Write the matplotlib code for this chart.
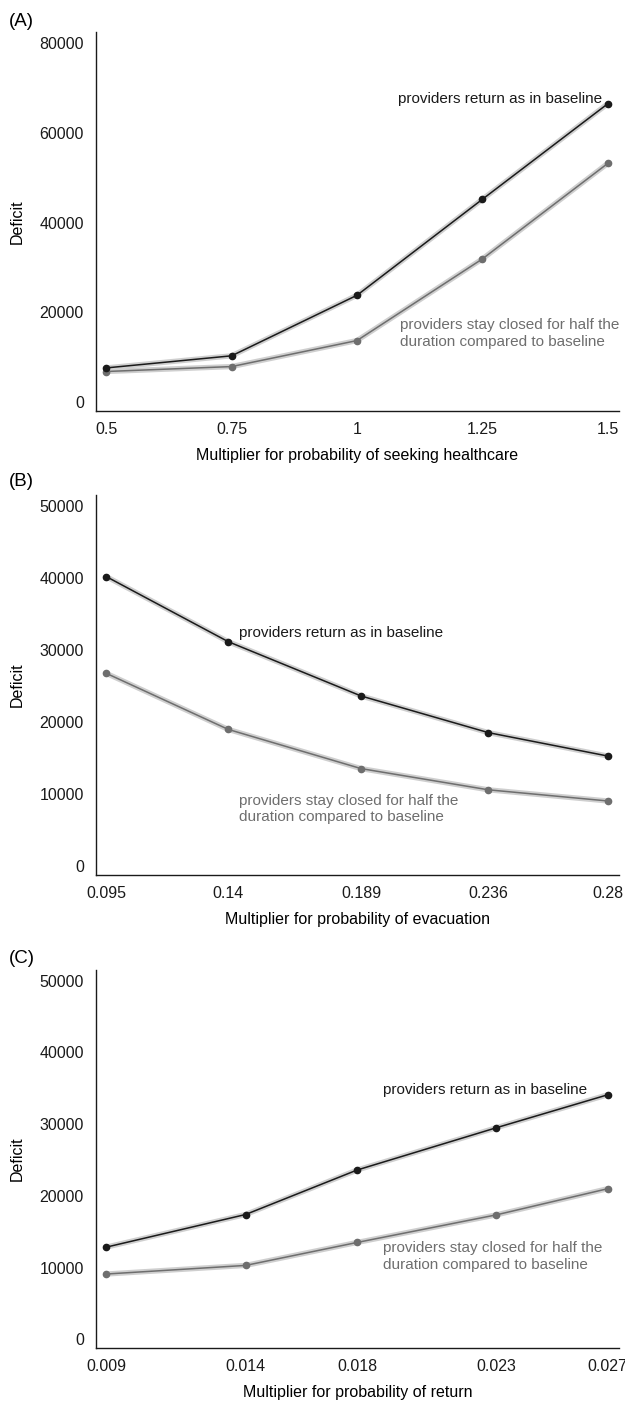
import matplotlib
matplotlib.use('Agg')
import matplotlib.pyplot as plt

plt.rcParams['font.family'] = ['Liberation Sans', 'DejaVu Sans']

# panel A: multiplier for probability of seeking healthcare
x_seek = [0.5, 0.75, 1.0, 1.25, 1.5]
seek_baseline = [7600, 10300, 23800, 45200, 66500]
seek_half = [6800, 7900, 13700, 31900, 53200]
seek_ticks = ['0.5', '0.75', '1', '1.25', '1.5']

# panel B: multiplier for probability of evacuation
x_evac = [0.095, 0.14, 0.189, 0.236, 0.28]
evac_baseline = [40250, 31200, 23650, 18550, 15300]
evac_half = [26800, 19000, 13550, 10600, 9050]
evac_ticks = ['0.095', '0.14', '0.189', '0.236', '0.28']

# panel C: multiplier for probability of return
x_ret = [0.009, 0.014, 0.018, 0.023, 0.027]
ret_baseline = [12850, 17400, 23600, 29500, 34100]
ret_half = [9100, 10300, 13500, 17350, 21000]
ret_ticks = ['0.009', '0.014', '0.018', '0.023', '0.027']

label_base = 'providers return as in baseline'
label_half = 'providers stay closed for half the\nduration compared to baseline'

dark = '#1a1a1a'
grey = '#6e6e6e'
band = '#cfcfcf'
fs = 11.5

fig = plt.figure(figsize=(6.25, 14.05), dpi=100)

panels = [
    dict(rect=[0.154, 0.7075, 0.836, 0.2697], tag='(A)', tag_y=0.9845,
         x=x_seek, base=seek_baseline, half=seek_half, ticks=seek_ticks,
         yticks=range(0, 80001, 20000), ylim=(-2000, 82500),
         xlabel='Multiplier for probability of seeking healthcare',
         base_pos=(1.488, 67500, 'right'), half_pos=(1.086, 15300)),
    dict(rect=[0.154, 0.3772, 0.836, 0.2705], tag='(B)', tag_y=0.657,
         x=x_evac, base=evac_baseline, half=evac_half, ticks=evac_ticks,
         yticks=range(0, 50001, 10000), ylim=(-1250, 51600),
         xlabel='Multiplier for probability of evacuation',
         base_pos=(0.144, 32450, 'left'), half_pos=(0.144, 7950)),
    dict(rect=[0.154, 0.0404, 0.836, 0.2692], tag='(C)', tag_y=0.318,
         x=x_ret, base=ret_baseline, half=ret_half, ticks=ret_ticks,
         yticks=range(0, 50001, 10000), ylim=(-1250, 51500),
         xlabel='Multiplier for probability of return',
         base_pos=(0.01893, 34800, 'left'), half_pos=(0.01893, 11500)),
]

for p in panels:
    ax = fig.add_axes(p['rect'])
    x = p['x']
    # light band behind each line, then the line and dots
    for ys, col in [(p['half'], grey), (p['base'], dark)]:
        ax.plot(x, ys, color=band, lw=3.8, solid_capstyle='round', zorder=1)
        ax.plot(x, ys, color=col, lw=1.1, zorder=2)
        ax.plot(x, ys, 'o', color=col, ms=4.5, zorder=3)

    span = x[-1] - x[0]
    ax.set_xlim(x[0] - 0.02 * span, x[-1] + 0.022 * span)
    ax.set_ylim(*p['ylim'])
    ax.set_xticks(x)
    ax.set_xticklabels(p['ticks'])
    ax.set_yticks(list(p['yticks']))
    ax.tick_params(length=0, labelsize=fs, colors='#1a1a1a')
    ax.tick_params(axis='y', pad=9)
    ax.tick_params(axis='x', pad=8)
    for s in ['top', 'right']:
        ax.spines[s].set_visible(False)
    for s in ['left', 'bottom']:
        ax.spines[s].set_linewidth(1.0)
        ax.spines[s].set_color('#1a1a1a')

    ax.set_ylabel('Deficit', fontsize=fs)
    ax.yaxis.set_label_coords(-0.136, 0.5)
    ax.set_xlabel(p['xlabel'], fontsize=fs)
    ax.xaxis.set_label_coords(0.5, -0.118)
    ax.xaxis.label.set_va('center')

    bx, by, bha = p['base_pos']
    ax.text(bx, by, label_base, color=dark, fontsize=fs - 0.5, ha=bha, va='center')
    hx, hy = p['half_pos']
    ax.text(hx, hy, label_half, color=grey, fontsize=fs - 0.5, ha='left',
            va='center', linespacing=1.25)

    fig.text(0.0144, p['tag_y'], p['tag'], fontsize=13.5, va='center', ha='left')

fig.savefig('out.png', dpi=100)
